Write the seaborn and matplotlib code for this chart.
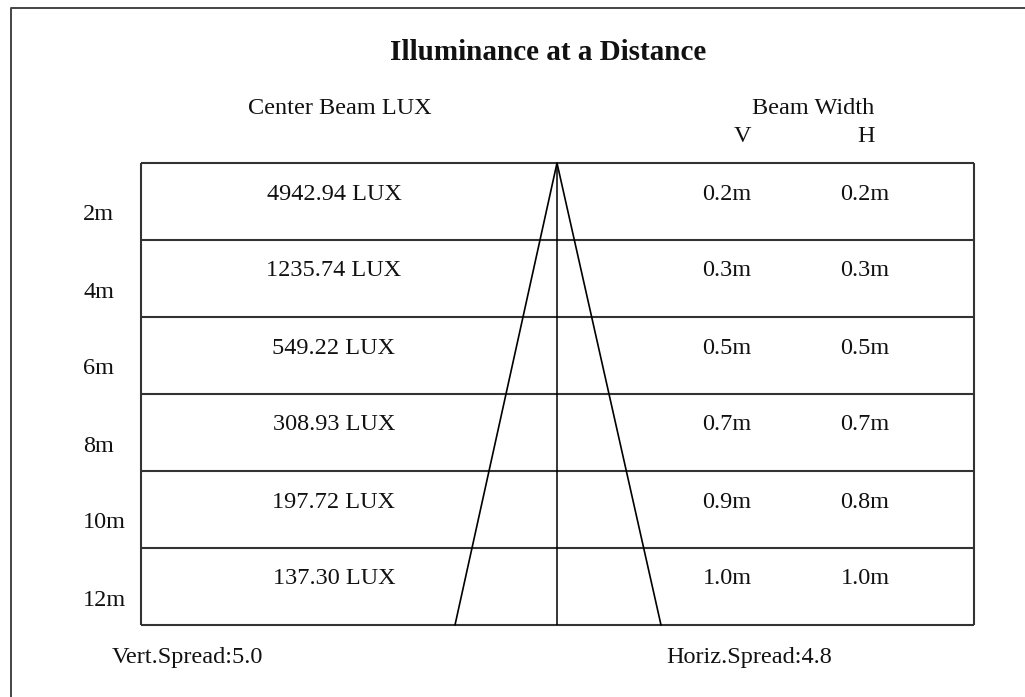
import matplotlib.pyplot as plt
import pandas as pd
import seaborn as sns

# table data
distances = ['2m', '4m', '6m', '8m', '10m', '12m']
center_lux = ['4942.94', '1235.74', '549.22', '308.93', '197.72', '137.30']
beam_v = ['0.2m', '0.3m', '0.5m', '0.7m', '0.9m', '1.0m']
beam_h = ['0.2m', '0.3m', '0.5m', '0.7m', '0.8m', '1.0m']
vert_spread = 5.0
horiz_spread = 4.8

sns.set_style('white')
plt.rcParams['font.family'] = ['Liberation Serif', 'DejaVu Serif']
plt.rcParams['text.color'] = '#111111'

fig = plt.figure(figsize=(10.25, 6.97), dpi=100)
ax = fig.add_axes([0, 0, 1, 1])

# outer frame (runs off the right and bottom edge)
ax.plot([11, 11, 1030], [702, 8, 8], color='#444444', lw=1.4, solid_capstyle='butt')

# table box
left, right, top, bottom = 141, 974, 163, 625
n = len(distances)
row_h = (bottom - top) / n
row_tops = [top + i * row_h for i in range(n)]
ax.hlines(row_tops + [bottom], left, right, color='#333333', lw=1.5)
ax.vlines([left, right], top, bottom, color='#333333', lw=1.5)

# beam cone
cx = 557
beam = pd.DataFrame({'x': [455, cx, 661], 'y': [bottom, top, bottom]})
sns.lineplot(data=beam, x='x', y='y', sort=False, color='black', lw=1.2, ax=ax)
ax.vlines(cx, top, bottom, color='black', lw=1.1)
ax.set_xlim(0, 1025)
ax.set_ylim(697, 0)
ax.axis('off')

fs = 17.5
ax.text(548, 52, 'Illuminance at a Distance', fontsize=21, fontweight='bold',
        ha='center', va='center')
ax.text(248, 108, 'Center Beam LUX', fontsize=fs, ha='left', va='center')
ax.text(813, 108, 'Beam Width', fontsize=fs, ha='center', va='center')
ax.text(742, 136, 'V', fontsize=fs, ha='center', va='center')
ax.text(866, 136, 'H', fontsize=fs, ha='center', va='center')

for i in range(n):
    t = row_tops[i]
    ax.text(83, t + 52, distances[i], fontsize=fs, ha='left', va='center')
    ax.text(334, t + 31, f'{center_lux[i]} LUX', fontsize=fs, ha='center', va='center')
    ax.text(727, t + 31, beam_v[i], fontsize=fs, ha='center', va='center')
    ax.text(865, t + 31, beam_h[i], fontsize=fs, ha='center', va='center')

ax.text(112, 658, f'Vert.Spread:{vert_spread:.1f}', fontsize=fs, ha='left', va='center')
ax.text(666, 658, f'Horiz.Spread:{horiz_spread:.1f}', fontsize=fs, ha='left', va='center')

fig.savefig('out.png', dpi=100)
